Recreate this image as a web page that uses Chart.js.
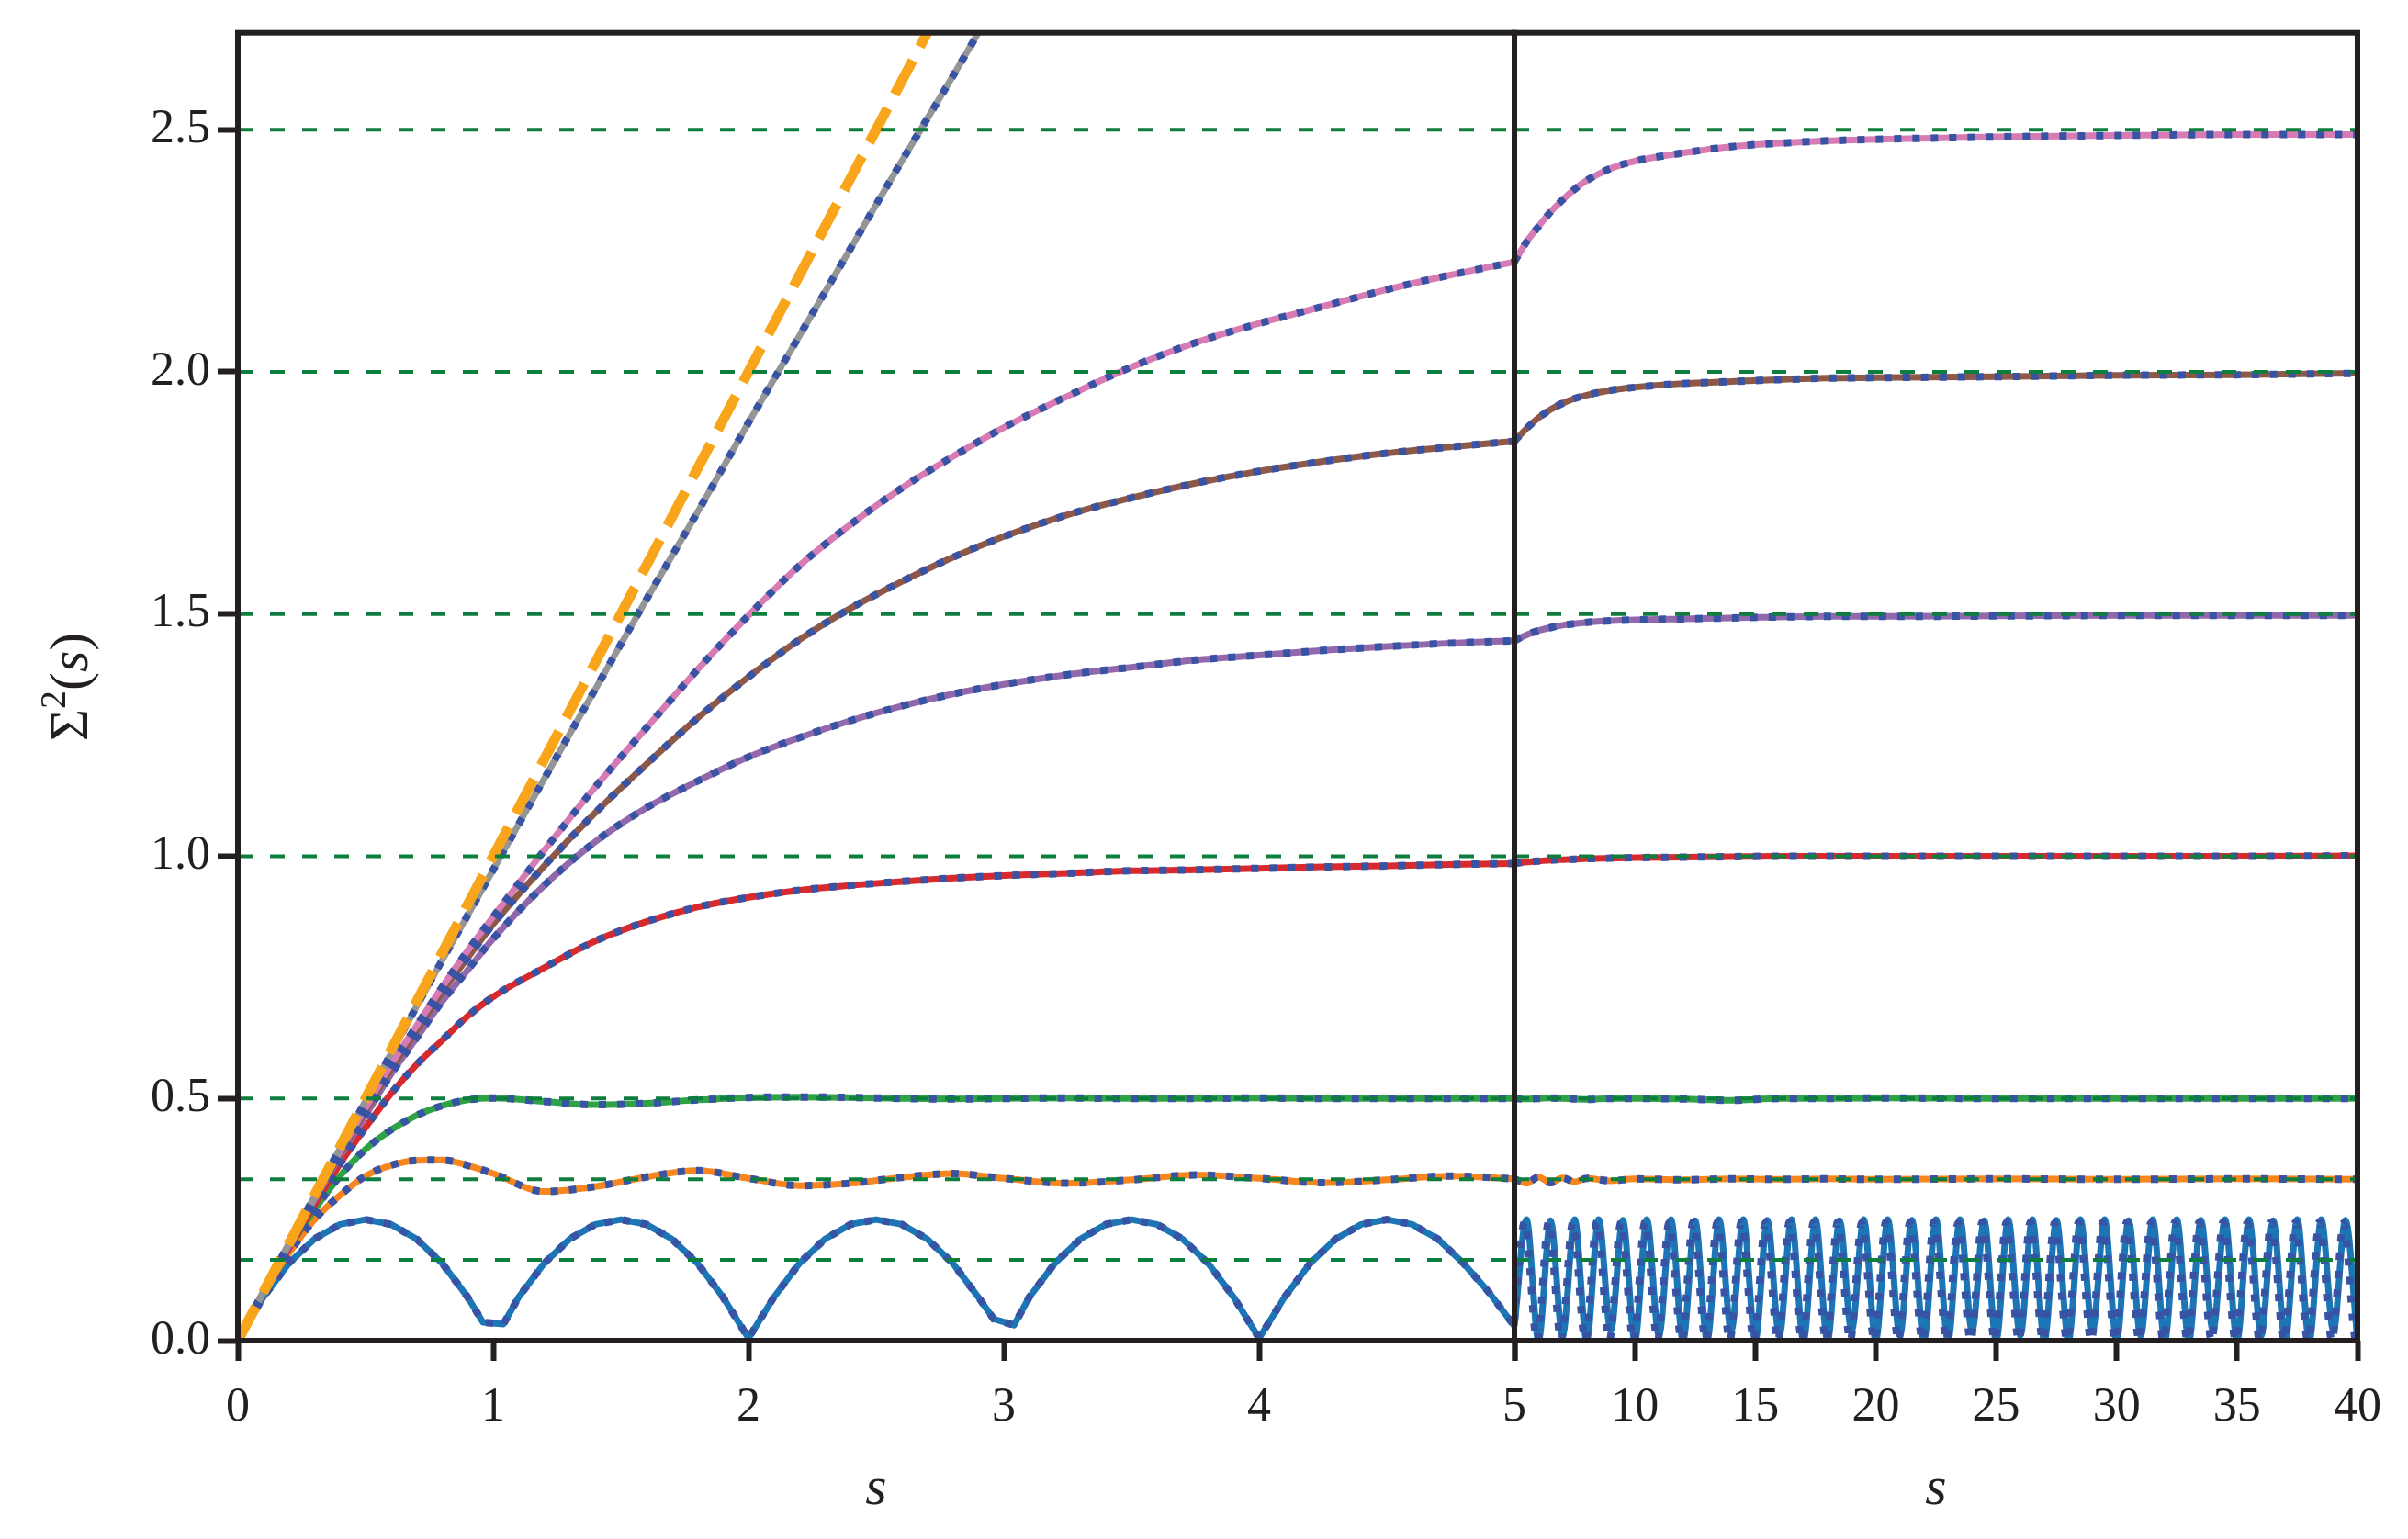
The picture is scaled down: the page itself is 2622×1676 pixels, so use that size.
<!DOCTYPE html>
<html>
<head>
<meta charset="utf-8">
<script src="https://cdn.jsdelivr.net/npm/chart.js@4.4.1/dist/chart.umd.min.js"></script>
<style>
  html, body { margin: 0; padding: 0; background: #fff; }
  #wrap { position: relative; width: 2622px; height: 1676px; overflow: hidden; }
  canvas { position: absolute; top: 0; }
  #left { left: 0; }
  #right { left: 1600px; }
</style>
</head>
<body>
<div id="wrap">
  <canvas id="left" width="1700" height="1676"></canvas>
  <canvas id="right" width="1022" height="1676"></canvas>
</div>
<script>
// ticks
const yTicks = [0, 0.5, 1.0, 1.5, 2.0, 2.5];
const xTicksLeft = [0, 1, 2, 3, 4, 5];
const xTicksRight = [5, 10, 15, 20, 25, 30, 35, 40];

// horizontal reference levels (green dashed)
const refLevels = [0.1667, 0.3333, 0.5, 1.0, 1.5, 2.0, 2.5];

// left panel, s in [0, 5]
const sLeft = [0, 0.1, 0.2, 0.3, 0.4, 0.5, 0.6, 0.7, 0.8, 0.9, 1.0, 1.2, 1.4, 1.6, 1.8,
               2.0, 2.2, 2.4, 2.6, 2.8, 3.0, 3.25, 3.5, 3.75, 4.0, 4.25, 4.5, 4.75, 5.0];
const orangeL = [0, 0.1, 0.18, 0.25, 0.30, 0.34, 0.362, 0.372, 0.373, 0.362, 0.345, 0.308, 0.318, 0.338, 0.351,
                 0.335, 0.32, 0.325, 0.337, 0.345, 0.335, 0.325, 0.332, 0.342, 0.335, 0.326, 0.332, 0.34, 0.334];
const greenL = [0, 0.1, 0.19, 0.27, 0.34, 0.395, 0.435, 0.465, 0.485, 0.497, 0.501, 0.494, 0.487, 0.49, 0.497,
                0.502, 0.503, 0.502, 0.5, 0.499, 0.5, 0.501, 0.5, 0.5, 0.501, 0.5, 0.5, 0.5, 0.5];
const redL = [0, 0.1, 0.19, 0.28, 0.365, 0.44, 0.51, 0.57, 0.62, 0.67, 0.71, 0.77, 0.825, 0.865, 0.895,
              0.915, 0.93, 0.94, 0.948, 0.955, 0.96, 0.965, 0.97, 0.972, 0.975, 0.978, 0.98, 0.983, 0.985];
const purpleL = [0, 0.1, 0.195, 0.29, 0.38, 0.465, 0.55, 0.625, 0.70, 0.765, 0.83, 0.94, 1.03, 1.10, 1.155,
                 1.205, 1.245, 1.28, 1.31, 1.335, 1.355, 1.375, 1.39, 1.405, 1.415, 1.425, 1.433, 1.44, 1.445];
const brownL = [0, 0.1, 0.2, 0.295, 0.385, 0.475, 0.56, 0.64, 0.72, 0.79, 0.86, 0.98, 1.09, 1.19, 1.285,
                1.37, 1.447, 1.512, 1.567, 1.617, 1.66, 1.705, 1.74, 1.77, 1.795, 1.815, 1.832, 1.845, 1.857];
const pinkL = [0, 0.1, 0.2, 0.295, 0.39, 0.48, 0.57, 0.65, 0.73, 0.805, 0.875, 1.012, 1.143, 1.265, 1.385,
               1.497, 1.60, 1.685, 1.76, 1.825, 1.885, 1.95, 2.01, 2.06, 2.10, 2.135, 2.17, 2.20, 2.227];
const grayL = [0, 0.1, 0.2, 0.298, 0.397, 0.495, 0.593, 0.69, 0.785, 0.878, 0.972, 1.16, 1.345, 1.53, 1.71,
               1.895, 2.075, 2.255, 2.435, 2.61, 2.79];
const poissonS = [0, 3];
const poissonV = [0, 3];

const blueLeftS = [0, 0.1, 0.2, 0.3, 0.4, 0.5, 0.6, 0.7, 0.8, 0.9, 0.96,
                   1.04, 1.1, 1.2, 1.3, 1.4, 1.5, 1.6, 1.7, 1.8, 1.9,
                   2.0, 2.1, 2.2, 2.3, 2.4, 2.5, 2.6, 2.7, 2.8, 2.9, 2.96,
                   3.04, 3.1, 3.2, 3.3, 3.4, 3.5, 3.6, 3.7, 3.8, 3.9,
                   4.0, 4.1, 4.2, 4.3, 4.4, 4.5, 4.6, 4.7, 4.8, 4.9, 5.0];
const blueLeftV = [0, 0.09, 0.16, 0.21, 0.24, 0.25, 0.24, 0.21, 0.16, 0.09, 0.038,
                   0.034, 0.09, 0.16, 0.21, 0.24, 0.25, 0.24, 0.21, 0.16, 0.09,
                   0.005, 0.09, 0.16, 0.21, 0.24, 0.25, 0.24, 0.21, 0.16, 0.09, 0.045,
                   0.032, 0.09, 0.16, 0.21, 0.24, 0.25, 0.24, 0.21, 0.16, 0.09,
                   0.005, 0.09, 0.16, 0.21, 0.24, 0.25, 0.24, 0.21, 0.16, 0.1, 0.03];

// right panel, s in [5, 40]
const sRight = [5, 5.5, 6, 6.5, 7, 7.5, 8, 9, 10, 12, 14, 16, 18, 20, 25, 30, 35, 40];
const orangeR = [0.334, 0.325, 0.338, 0.326, 0.336, 0.328, 0.335, 0.33, 0.334, 0.332, 0.334, 0.333, 0.334, 0.333, 0.334, 0.333, 0.334, 0.333];
const greenR = [0.5, 0.499, 0.5, 0.501, 0.5, 0.499, 0.498, 0.5, 0.5, 0.499, 0.496, 0.5, 0.5, 0.501, 0.5, 0.5, 0.5, 0.5];
const redR = [0.985, 0.988, 0.99, 0.992, 0.993, 0.994, 0.995, 0.996, 0.997, 0.998, 0.999, 1.0, 1.0, 1.0, 1.0, 1.0, 1.0, 1.001];
const purpleR = [1.445, 1.457, 1.466, 1.472, 1.477, 1.48, 1.483, 1.486, 1.488, 1.49, 1.492, 1.494, 1.495, 1.495, 1.496, 1.497, 1.497, 1.497];
const brownR = [1.857, 1.883, 1.905, 1.922, 1.935, 1.945, 1.952, 1.962, 1.968, 1.976, 1.98, 1.984, 1.987, 1.988, 1.99, 1.993, 1.994, 1.997];
const pinkR = [2.227, 2.268, 2.30, 2.33, 2.355, 2.377, 2.395, 2.42, 2.435, 2.452, 2.465, 2.472, 2.477, 2.48, 2.485, 2.488, 2.49, 2.49];

const blueRightS = [5, 5.5, 6, 6.5, 7, 7.5, 8, 8.5, 9, 9.5,
                    10, 10.5, 11, 11.5, 12, 12.5, 13, 13.5, 14, 14.5,
                    15, 15.5, 16, 16.5, 17, 17.5, 18, 18.5, 19, 19.5,
                    20, 20.5, 21, 21.5, 22, 22.5, 23, 23.5, 24, 24.5,
                    25, 25.5, 26, 26.5, 27, 27.5, 28, 28.5, 29, 29.5,
                    30, 30.5, 31, 31.5, 32, 32.5, 33, 33.5, 34, 34.5,
                    35, 35.5, 36, 36.5, 37, 37.5, 38, 38.5, 39, 39.5,
                    40];
const blueRightV = [0.03, 0.25, 0.0, 0.248, 0.01, 0.25, 0.0, 0.25, 0.02, 0.249,
                    0.0, 0.25, 0.01, 0.25, 0.0, 0.248, 0.0, 0.25, 0.02, 0.25,
                    0.0, 0.249, 0.01, 0.25, 0.0, 0.25, 0.0, 0.248, 0.02, 0.25,
                    0.0, 0.25, 0.01, 0.249, 0.0, 0.25, 0.0, 0.25, 0.02, 0.248,
                    0.0, 0.25, 0.01, 0.25, 0.0, 0.249, 0.0, 0.25, 0.02, 0.25,
                    0.0, 0.248, 0.01, 0.25, 0.0, 0.25, 0.0, 0.249, 0.02, 0.25,
                    0.0, 0.25, 0.01, 0.248, 0.0, 0.25, 0.0, 0.25, 0.02, 0.249,
                    0.0];
// dotted fit of the same oscillation, slightly out of phase
const blueRightDotS = [5, 5.42, 5.94, 6.42, 6.94, 7.42, 7.94, 8.42, 8.94, 9.42,
                       9.94, 10.42, 10.94, 11.42, 11.94, 12.42, 12.94, 13.42, 13.94, 14.42,
                       14.94, 15.42, 15.94, 16.42, 16.94, 17.42, 17.94, 18.42, 18.94, 19.42,
                       19.94, 20.42, 20.94, 21.42, 21.94, 22.42, 22.94, 23.42, 23.94, 24.42,
                       24.94, 25.42, 25.94, 26.42, 26.94, 27.42, 27.94, 28.42, 28.94, 29.42,
                       29.94, 30.42, 30.94, 31.42, 31.94, 32.42, 32.94, 33.42, 33.94, 34.42,
                       34.94, 35.42, 35.94, 36.42, 36.94, 37.42, 37.94, 38.42, 38.94, 39.42,
                       39.94, 40];
const blueRightDotV = [0.04, 0.245, 0.0, 0.245, 0.0, 0.243, 0.0, 0.245, 0.0, 0.244,
                       0.0, 0.245, 0.0, 0.243, 0.0, 0.245, 0.0, 0.244, 0.0, 0.245,
                       0.0, 0.243, 0.0, 0.245, 0.0, 0.244, 0.0, 0.245, 0.0, 0.243,
                       0.0, 0.245, 0.0, 0.244, 0.0, 0.245, 0.0, 0.243, 0.0, 0.245,
                       0.0, 0.244, 0.0, 0.245, 0.0, 0.243, 0.0, 0.245, 0.0, 0.244,
                       0.0, 0.245, 0.0, 0.243, 0.0, 0.245, 0.0, 0.244, 0.0, 0.245,
                       0.0, 0.243, 0.0, 0.245, 0.0, 0.244, 0.0, 0.245, 0.0, 0.243,
                       0.0, 0.01];

// colours
const INK = '#231f20';
const C = {
  blue: '#1c76b5', orange: '#f7861f', green: '#2fa147', red: '#d62a2e',
  purple: '#9268ad', brown: '#8b5849', pink: '#d67bb3', gray: '#939597',
  dotted: '#3953a4', poisson: '#f9a51b', ref: '#0e7e3e'
};
const FONT = "'Liberation Serif', 'DejaVu Serif', serif";

Chart.defaults.color = INK;
Chart.defaults.font.family = FONT;

function pts(xs, ys) {
  const n = Math.min(xs.length, ys.length);
  const out = [];
  for (let i = 0; i < n; i++) out.push({ x: xs[i], y: ys[i] });
  return out;
}

function solid(xs, ys, color, smooth) {
  return {
    data: pts(xs, ys), borderColor: color, borderWidth: 7, pointRadius: 0,
    cubicInterpolationMode: smooth ? 'monotone' : 'default', tension: 0,
    borderJoinStyle: 'round', clip: 0, fill: false
  };
}

function dotted(xs, ys, smooth) {
  const d = solid(xs, ys, C.dotted, smooth);
  d.borderWidth = 8;
  d.borderDash = [8, 12];
  d.borderJoinStyle = 'miter';
  return d;
}

function refLines(x0, x1) {
  return refLevels.map(v => ({
    data: pts([x0, x1], [v, v]), borderColor: C.ref, borderWidth: 4,
    borderDash: [16, 19], pointRadius: 0, clip: 0, fill: false
  }));
}

// spines on all four sides, over the lines
const framePlugin = {
  id: 'frame',
  afterDatasetsDraw(chart) {
    const { ctx, chartArea: a } = chart;
    ctx.save();
    ctx.strokeStyle = INK;
    ctx.lineWidth = 6;
    ctx.strokeRect(a.left, a.top, a.right - a.left, a.bottom - a.top);
    ctx.restore();
  }
};

// y label: upright sigma and parentheses, italic s
const yLabelPlugin = {
  id: 'ylabel',
  afterDraw(chart) {
    const { ctx, chartArea: a } = chart;
    const parts = [
      { t: 'Σ', f: '60px ' + FONT, dy: 0 },
      { t: '2', f: '40px ' + FONT, dy: -24 },
      { t: '(', f: '60px ' + FONT, dy: 0 },
      { t: 's', f: 'italic 60px ' + FONT, dy: 0 },
      { t: ')', f: '60px ' + FONT, dy: 0 }
    ];
    ctx.save();
    let w = 0;
    parts.forEach(p => { ctx.font = p.f; p.w = ctx.measureText(p.t).width; w += p.w; });
    ctx.translate(75, (a.top + a.bottom) / 2);
    ctx.rotate(-Math.PI / 2);
    ctx.fillStyle = INK;
    ctx.textBaseline = 'alphabetic';
    let x = -w / 2;
    parts.forEach(p => { ctx.font = p.f; ctx.fillText(p.t, x, 20 + p.dy); x += p.w; });
    ctx.restore();
  }
};

function withOrder(list) {
  list.forEach((d, i) => { d.order = list.length - i; });
  return list;
}

function xScale(min, max, ticks, showFirst) {
  return {
    type: 'linear', min: min, max: max,
    afterBuildTicks: s => { s.ticks = ticks.map(v => ({ value: v })); },
    afterFit: s => { s.height = 216; },
    grid: { drawOnChartArea: false, drawTicks: true, tickLength: 22, tickWidth: 6, tickColor: INK },
    border: { display: false },
    ticks: {
      autoSkip: false, maxRotation: 0, padding: 20, color: INK,
      font: { size: 52, family: FONT },
      callback: v => (v === min && !showFirst) ? '' : String(v)
    },
    title: { display: true, text: 's', color: INK, padding: { top: 0, bottom: 18 },
             font: { size: 60, style: 'italic', family: FONT } }
  };
}

// left panel datasets, bottom-most first
const leftSets = [];
[[blueLeftS, blueLeftV, C.blue, false], [sLeft, orangeL, C.orange, true], [sLeft, greenL, C.green, true],
 [sLeft, redL, C.red, true], [sLeft, purpleL, C.purple, true], [sLeft, brownL, C.brown, true],
 [sLeft, pinkL, C.pink, true], [sLeft, grayL, C.gray, true]].forEach(c => {
  leftSets.push(solid(c[0], c[1], c[2], c[3]));
  leftSets.push(dotted(c[0], c[1], c[3]));
});
const pois = solid(poissonS, poissonV, C.poisson, false);
pois.borderWidth = 11;
pois.borderDash = [42, 17];
pois.borderJoinStyle = 'miter';
leftSets.push(pois);
refLines(0, 5).forEach(d => leftSets.push(d));

new Chart(document.getElementById('left'), {
  type: 'line',
  data: { datasets: withOrder(leftSets) },
  options: {
    responsive: false, animation: false, devicePixelRatio: 1,
    layout: { padding: { left: 0, right: 51, top: 35.7, bottom: 0 } },
    plugins: { legend: { display: false }, tooltip: { enabled: false } },
    scales: {
      x: xScale(0, 5, xTicksLeft, true),
      y: {
        type: 'linear', min: 0, max: 2.7,
        afterBuildTicks: s => { s.ticks = yTicks.map(v => ({ value: v })); },
        afterFit: s => { s.width = 259; s.paddingTop = 0; s.paddingBottom = 0; },
        grid: { drawOnChartArea: false, drawTicks: true, tickLength: 22, tickWidth: 6, tickColor: INK },
        border: { display: false },
        ticks: { padding: 8, color: INK, font: { size: 52, family: FONT }, callback: v => v.toFixed(1) },
        title: { display: false }
      }
    }
  },
  plugins: [framePlugin, yLabelPlugin]
});

// right panel datasets
const rightSets = [];
rightSets.push(solid(blueRightS, blueRightV, C.blue, true));
rightSets.push(dotted(blueRightDotS, blueRightDotV, true));
[[sRight, orangeR, C.orange], [sRight, greenR, C.green],
 [sRight, redR, C.red], [sRight, purpleR, C.purple], [sRight, brownR, C.brown],
 [sRight, pinkR, C.pink]].forEach(c => {
  rightSets.push(solid(c[0], c[1], c[2], true));
  rightSets.push(dotted(c[0], c[1], true));
});
refLines(5, 40).forEach(d => rightSets.push(d));

new Chart(document.getElementById('right'), {
  type: 'line',
  data: { datasets: withOrder(rightSets) },
  options: {
    responsive: false, animation: false, devicePixelRatio: 1,
    layout: { padding: { left: 49, right: 55, top: 35.7, bottom: 0 } },
    plugins: { legend: { display: false }, tooltip: { enabled: false } },
    scales: {
      x: xScale(5, 40, xTicksRight, false),
      y: { type: 'linear', min: 0, max: 2.7, display: false }
    }
  },
  plugins: [framePlugin]
});
</script>
</body>
</html>
